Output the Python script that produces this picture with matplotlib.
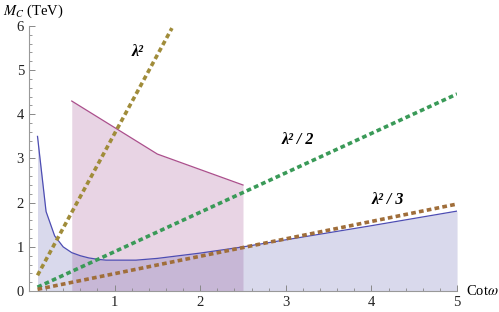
import numpy as np
import matplotlib
matplotlib.use('Agg')
import matplotlib.pyplot as plt
from matplotlib.ticker import MultipleLocator

plt.rcParams['font.family'] = ['Liberation Serif', 'DejaVu Serif']
plt.rcParams['mathtext.fontset'] = 'stix'

# blue bound curve
blue_x = [0.1, 0.2, 0.3, 0.4, 0.5, 0.6, 0.7, 0.8, 0.9, 1.0, 1.25, 1.5, 2.0, 2.5, 3.0, 4.0, 5.0]
blue_y = [3.5, 1.8, 1.25, 1.0, 0.87, 0.8, 0.75, 0.72, 0.70, 0.70, 0.70, 0.74, 0.86, 1.0, 1.16, 1.48, 1.81]

# pink region upper edge
pink_x = [0.5, 1.5, 2.5]
pink_y = [4.3, 3.1, 2.4]

# dotted reference lines (start/end points)
lam2_x = [0.1, 1.67]
lam2_y = [0.357, 5.95]
lam2h_x = [0.1, 5.0]
lam2h_y = [0.089, 4.46]
lam3_x = [0.1, 5.0]
lam3_y = [0.04, 1.97]

line_labels = ['λ²', 'λ² / 2', 'λ² / 3']
label_pos = [(1.27, 5.4), (3.14, 3.42), (4.19, 2.06)]

fig = plt.figure(figsize=(4.99, 3.12), dpi=100)
ax = fig.add_axes([0.058, 0.067, 0.858, 0.85])

pink = (0.55, 0.16, 0.47)
blue = (0.27, 0.27, 0.63)

ax.fill_between(pink_x, 0, pink_y, color=pink, alpha=0.2, lw=0)
ax.plot(pink_x, pink_y, color=(0.67, 0.31, 0.55), lw=0.9)
ax.fill_between(blue_x, 0, blue_y, color=blue, alpha=0.2, lw=0)
ax.plot(blue_x, blue_y, color=(0.3, 0.3, 0.7), lw=0.9)

dash = (0, (1.3, 0.9))
ax.plot(lam2_x, lam2_y, color='#a08c3a', lw=2.6, linestyle=dash)
ax.plot(lam2h_x, lam2h_y, color='#3a9a58', lw=2.6, linestyle=dash)
ax.plot(lam3_x, lam3_y, color='#a06e3a', lw=2.6, linestyle=dash)

for lab, (tx, ty) in zip(line_labels, label_pos):
    ax.text(tx, ty, lab, fontsize=11.5, ha='center', va='center',
            fontweight='bold', fontstyle='italic')

ax.set_xlim(0, 5)
ax.set_ylim(0, 6)
ax.xaxis.set_major_locator(MultipleLocator(1))
ax.xaxis.set_minor_locator(MultipleLocator(0.2))
ax.yaxis.set_major_locator(MultipleLocator(1))
ax.yaxis.set_minor_locator(MultipleLocator(0.2))
ax.set_xticks([1, 2, 3, 4, 5])
ax.tick_params(which='both', direction='in', colors='#888888', labelcolor='#222222', labelsize=10.5)
ax.tick_params(which='major', length=4.5, width=0.7)
ax.tick_params(which='minor', length=2.5, width=0.6)
for s in ['top', 'right']:
    ax.spines[s].set_visible(False)
for s in ['left', 'bottom']:
    ax.spines[s].set_color('#999999')
    ax.spines[s].set_linewidth(0.8)

fig.text(0.006, 0.965, r'$M_C$ (TeV)', fontsize=10.5, ha='left', va='center')
ax.text(5.1, 0.0, r'Cot$\omega$', fontsize=10.5, ha='left', va='center')

fig.savefig('out.png', dpi=100)
